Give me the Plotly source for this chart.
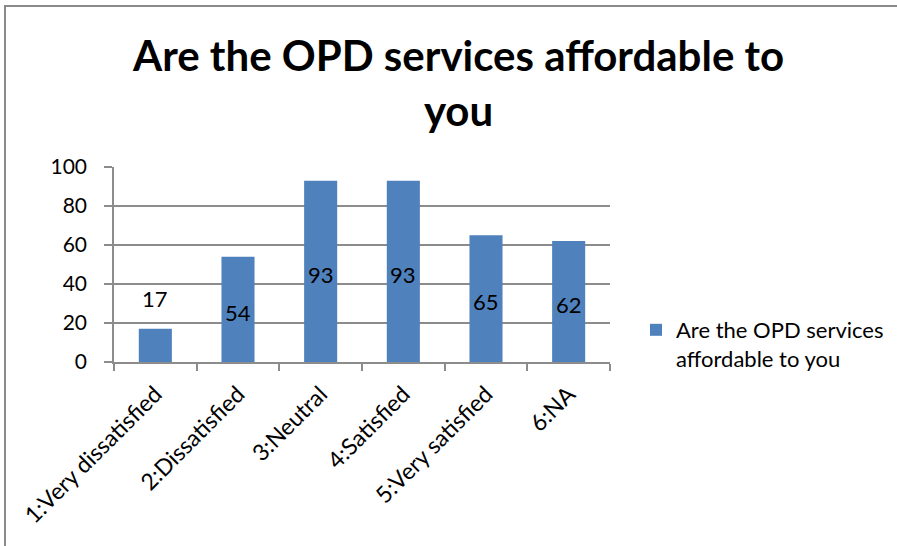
import plotly.graph_objects as go

# Survey responses
categories = ["1:Very dissatisfied", "2:Dissatisfied", "3:Neutral",
              "4:Satisfied", "5:Very satisfied", "6:NA"]
counts = [17, 54, 93, 93, 65, 62]
series_name = "Are the OPD services affordable to you"
y_ticks = [0, 20, 40, 60, 80, 100]

FONT = "Lato, Calibri, sans-serif"
BAR = "#4F81BD"
GRID = "#8C8C8C"

W, H = 897, 546
L, R, T, B = 114, 610, 167, 362   # plot area in pixels
pw, ph = R - L, B - T

def px_x(x):
    return (x - L) / pw

def px_y(y):
    return (B - y) / ph

fig = go.Figure()
fig.add_trace(go.Bar(
    x=categories, y=counts, name="Are the OPD services<br>affordable to you",
    marker=dict(color=BAR, line=dict(width=0)), width=0.4,
    showlegend=True,
))

# data labels: centred in the bar, or above it when the bar is short
annotations = []
for c, v in zip(categories, counts):
    if v < 25:
        annotations.append(dict(x=c, y=v, xref="x", yref="y", text=str(v),
                                showarrow=False, yanchor="bottom", yshift=15,
                                font=dict(family=FONT, size=22, color="#000")))
    else:
        annotations.append(dict(x=c, y=v / 2, xref="x", yref="y", text=str(v),
                                showarrow=False, yanchor="middle", yshift=-3,
                                font=dict(family=FONT, size=22, color="#000")))

# chart title
annotations.append(dict(
    text="<b>Are the OPD services affordable to<br>you</b>",
    xref="paper", yref="paper", x=px_x(458), y=px_y(28),
    xanchor="center", yanchor="top", showarrow=False, align="center",
    font=dict(family=FONT, size=42, color="#000"),
))

fig.update_layout(
    width=W, height=H,
    margin=dict(l=L, r=W - R, t=T, b=H - B, pad=0, autoexpand=False),
    paper_bgcolor="white", plot_bgcolor="white",
    font=dict(family=FONT, size=21, color="#000"),
    showlegend=True,
    legend=dict(x=px_x(636), y=px_y(309), xanchor="left", yanchor="top",
                font=dict(family=FONT, size=22, color="#000"),
                bgcolor="rgba(0,0,0,0)", valign="top",
                itemwidth=30, tracegroupgap=0),
    annotations=annotations,
    bargap=0.6,
    shapes=[
        dict(type="line", xref="paper", yref="paper",
             x0=px_x(5), x1=px_x(5), y0=px_y(6), y1=px_y(H + 2),
             line=dict(color="#8A8A8A", width=2)),
        dict(type="line", xref="paper", yref="paper",
             x0=px_x(4), x1=px_x(W + 2), y0=px_y(6), y1=px_y(6),
             line=dict(color="#8A8A8A", width=2)),
    ],
)

fig.update_xaxes(
    type="category", tickson="boundaries", ticks="outside", ticklen=7,
    tickcolor=GRID, tickwidth=1.5, showline=True, linecolor=GRID, linewidth=1.5,
    tickangle=-45, showgrid=False, tickfont=dict(family=FONT, size=23),
    ticklabelstandoff=8, automargin=False,
)
fig.update_yaxes(
    range=[0, 100], tickvals=y_ticks, ticks="outside", ticklen=8,
    tickcolor=GRID, tickwidth=1.5, showline=True, linecolor=GRID, linewidth=1.5,
    showgrid=True, gridcolor=GRID, gridwidth=1.5, zeroline=False,
    tickfont=dict(family=FONT, size=21), ticklabelstandoff=13, automargin=False,
)

fig.write_html("out.html")
